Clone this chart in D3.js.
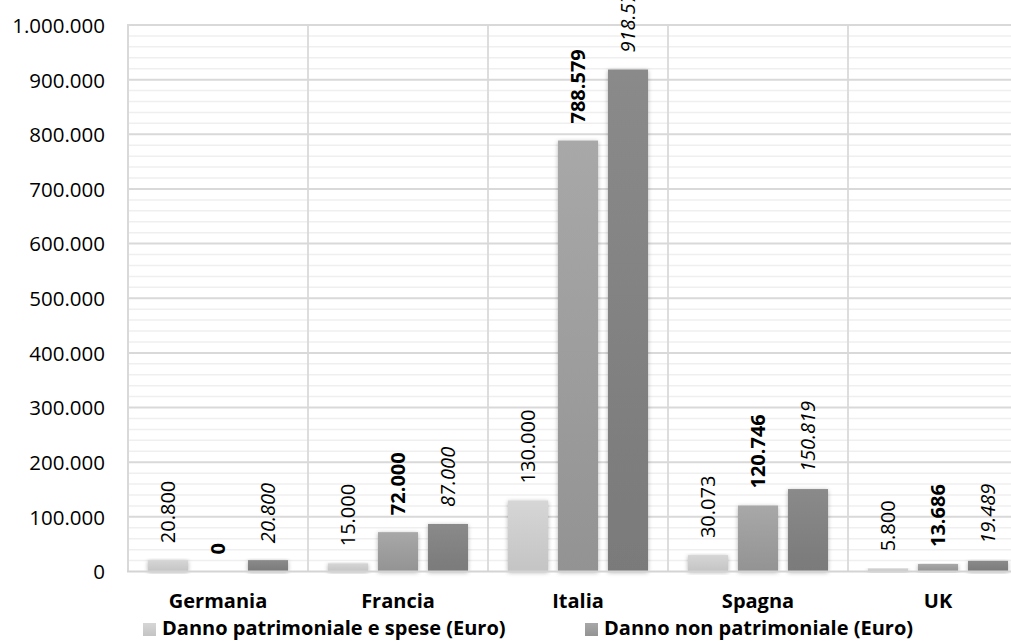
<!DOCTYPE html>
<html>
<head>
<meta charset="utf-8">
<script src="https://cdn.jsdelivr.net/npm/d3@7"></script>
<style>
  html, body { margin: 0; padding: 0; background: #fff; }
  svg { display: block; font-family: "Open Sans", sans-serif; }
</style>
</head>
<body>
<svg id="chart" width="1011" height="642"></svg>
<script>
// Risarcimenti per paese
const categories = ["Germania", "Francia", "Italia", "Spagna", "UK"];
const patrimoniale = [20800, 15000, 130000, 30073, 5800];
const nonPatrimoniale = [0, 72000, 788579, 120746, 13686];
const totale = [20800, 87000, 918579, 150819, 19489];
const yTicks = [0, 100000, 200000, 300000, 400000, 500000, 600000, 700000, 800000, 900000, 1000000];
const legendLabels = ["Danno patrimoniale e spese (Euro)", "Danno non patrimoniale (Euro)"];

const series = [
  { key: "pat", values: patrimoniale, top: "#d6d6d6", bottom: "#c4c4c4", weight: "normal", style: "normal" },
  { key: "nonpat", values: nonPatrimoniale, top: "#a8a8a8", bottom: "#939393", weight: "bold", style: "normal" },
  { key: "tot", values: totale, top: "#8a8a8a", bottom: "#7a7a7a", weight: "normal", style: "italic" }
];

const it = d3.formatLocale({ decimal: ",", thousands: ".", grouping: [3], currency: ["€", ""] });
const fmt = it.format(",d");

const svg = d3.select("#chart");
const plot = { left: 128, right: 1028, top: 25, bottom: 571.5 };

const x0 = d3.scaleBand().domain(categories).range([plot.left, plot.right]).padding(0);
const x1 = d3.scaleBand().domain(series.map(s => s.key)).range([0, x0.bandwidth()])
  .paddingInner(0.2).paddingOuter(0.4);
const y = d3.scaleLinear().domain([0, 1000000]).range([plot.bottom, plot.top]);

// gradients and soft shadow for bars
const defs = svg.append("defs");
series.forEach(s => {
  const g = defs.append("linearGradient").attr("id", "grad-" + s.key)
    .attr("x1", 0).attr("y1", 0).attr("x2", 0).attr("y2", 1);
  g.append("stop").attr("offset", "0%").attr("stop-color", s.top);
  g.append("stop").attr("offset", "100%").attr("stop-color", s.bottom);
});
const f = defs.append("filter").attr("id", "shadow")
  .attr("x", "-30%").attr("y", "-10%").attr("width", "160%").attr("height", "130%");
f.append("feDropShadow").attr("dx", 0).attr("dy", 1).attr("stdDeviation", 2)
  .attr("flood-color", "#000").attr("flood-opacity", 0.3);

const clip = defs.append("clipPath").attr("id", "plotclip");
clip.append("rect").attr("x", 0).attr("y", 0).attr("width", 1011).attr("height", 642);

// minor gridlines
const minor = d3.range(20000, 1000001, 20000).filter(v => v % 100000 !== 0);
svg.append("g").selectAll("line").data(minor).join("line")
  .attr("x1", plot.left).attr("x2", plot.right)
  .attr("y1", d => y(d)).attr("y2", d => y(d))
  .attr("stroke", "#efefef").attr("stroke-width", 1.5);

// major gridlines
svg.append("g").selectAll("line").data(yTicks.filter(v => v > 0)).join("line")
  .attr("x1", plot.left).attr("x2", plot.right)
  .attr("y1", d => y(d)).attr("y2", d => y(d))
  .attr("stroke", "#d9d9d9").attr("stroke-width", 2);

// category separators
svg.append("g").selectAll("line").data(categories.slice(1)).join("line")
  .attr("x1", d => x0(d)).attr("x2", d => x0(d))
  .attr("y1", plot.top).attr("y2", plot.bottom)
  .attr("stroke", "#d9d9d9").attr("stroke-width", 1.75);

// left border
svg.append("line")
  .attr("x1", plot.left).attr("x2", plot.left)
  .attr("y1", plot.top - 1).attr("y2", plot.bottom)
  .attr("stroke", "#d9d9d9").attr("stroke-width", 2);

// y axis labels
const yAxis = d3.axisLeft(y).tickValues(yTicks).tickFormat(fmt).tickSize(0).tickPadding(0);
const ya = svg.append("g").attr("transform", `translate(105,0)`).call(yAxis);
ya.select(".domain").remove();
ya.selectAll("text").attr("font-size", 20.5).attr("fill", "#000")
  .attr("font-family", "'Open Sans', sans-serif").attr("dy", "0.36em");

// bars
const groups = svg.append("g").selectAll("g").data(categories).join("g")
  .attr("transform", d => `translate(${x0(d)},0)`);

series.forEach(s => {
  groups.append("rect")
    .attr("x", x1(s.key))
    .attr("width", x1.bandwidth())
    .attr("y", (d, i) => y(s.values[i]))
    .attr("height", (d, i) => y(0) - y(s.values[i]))
    .attr("fill", `url(#grad-${s.key})`)
    .attr("filter", "url(#shadow)");
});

// baseline
svg.append("line")
  .attr("x1", plot.left - 1).attr("x2", plot.right)
  .attr("y1", plot.bottom).attr("y2", plot.bottom)
  .attr("stroke", "#d4d4d4").attr("stroke-width", 2);

// value labels (rotated)
series.forEach(s => {
  groups.append("text")
    .attr("transform", (d, i) => `translate(${x1(s.key) + x1.bandwidth() / 2},${y(s.values[i]) - 17}) rotate(-90)`)
    .attr("dy", "0.36em")
    .attr("text-anchor", "start")
    .attr("font-size", 20)
    .attr("font-weight", s.weight)
    .attr("font-style", s.style)
    .attr("fill", "#000")
    .text((d, i) => fmt(s.values[i]));
});

// category labels
const xAxis = d3.axisBottom(x0).tickSize(0).tickPadding(0);
const xa = svg.append("g").attr("transform", `translate(0,608)`).call(xAxis);
xa.select(".domain").remove();
xa.selectAll("text").attr("font-size", 20).attr("font-weight", "bold").attr("fill", "#000")
  .attr("font-family", "'Open Sans', sans-serif").attr("dy", 0);

// legend
const legendX = [143, 585];
const legend = svg.append("g").selectAll("g").data(legendLabels).join("g")
  .attr("transform", (d, i) => `translate(${legendX[i]},0)`);
legend.append("rect")
  .attr("x", 0).attr("y", 623).attr("width", 13).attr("height", 13)
  .attr("fill", (d, i) => `url(#grad-${series[i].key})`);
legend.append("text")
  .attr("x", 19).attr("y", 635)
  .attr("font-size", 20).attr("font-weight", "bold").attr("fill", "#000")
  .text(d => d);
</script>
</body>
</html>
